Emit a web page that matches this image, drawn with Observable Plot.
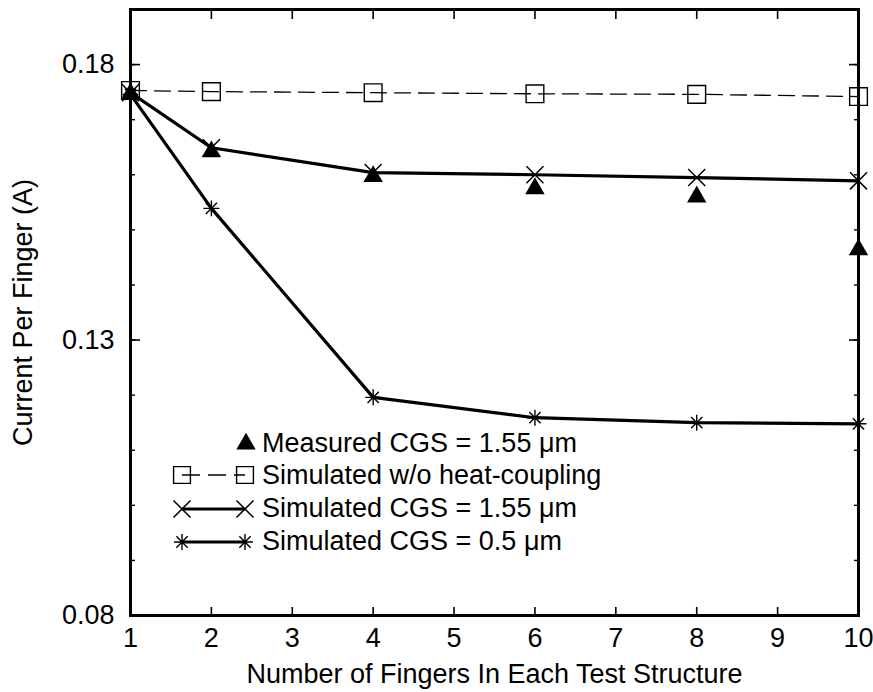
<!DOCTYPE html>
<html><head><meta charset="utf-8">
<script src="https://cdn.jsdelivr.net/npm/d3@7"></script>
<script src="https://cdn.jsdelivr.net/npm/@observablehq/plot@0.6"></script>
<style>html,body{margin:0;padding:0;background:#fff}#chart{width:873px;height:692px}</style>
</head><body><div id="chart"></div>
<script>
// ---- data ----
const fingers = [1, 2, 4, 6, 8, 10];
const noCoupling  = [0.1753, 0.1751, 0.1749, 0.1747, 0.1746, 0.1742];
const sim155      = [0.1749, 0.1649, 0.1604, 0.1600, 0.1595, 0.1589];
const measured155 = [0.1747, 0.1642, 0.1597, 0.1575, 0.1560, 0.1464];
const sim05       = [0.1746, 0.1539, 0.1196, 0.1159, 0.1150, 0.1148];
const xTicks  = [1, 2, 3, 4, 5, 6, 7, 8, 9, 10];
const yMajor  = [0.08, 0.13, 0.18];
const yMinor  = [0.08, 0.09, 0.10, 0.11, 0.12, 0.13, 0.14, 0.15, 0.16, 0.17, 0.18, 0.19];
const legendLabels = ["Measured CGS = 1.55 \u03bcm", "Simulated w/o heat-coupling", "Simulated CGS = 1.55 \u03bcm", "Simulated CGS = 0.5 \u03bcm"];
const xLabel = "Number of Fingers In Each Test Structure";
const yLabel = "Current Per Finger (A)";

const rows = ys => fingers.map((x, i) => ({x, y: ys[i]}));
const font = "'Liberation Sans', Arial, Helvetica, sans-serif";
const FS = 27;
const blank = () => "";

// eight-armed asterisk symbol
const star8 = {
  draw(context, size) {
    const r = Math.sqrt(size) * 0.6;
    const d = r * Math.SQRT1_2;
    context.moveTo(0, -r); context.lineTo(0, r);
    context.moveTo(-r, 0); context.lineTo(r, 0);
    context.moveTo(-d, -d); context.lineTo(d, d);
    context.moveTo(-d, d); context.lineTo(d, -d);
  }
};

const plot = Plot.plot({
  width: 873, height: 692,
  marginLeft: 130, marginRight: 15, marginTop: 9, marginBottom: 77,
  style: {fontFamily: font, fontSize: FS + "px", color: "black", background: "white", overflow: "visible"},
  x: {domain: [1, 10], label: null},
  y: {domain: [0.08, 0.19], label: null},
  marks: [
    // inward ticks
    Plot.axisX(xTicks, {anchor: "bottom", tickSize: -8, tickFormat: blank, strokeWidth: 1.6, label: null}),
    Plot.axisX(xTicks, {anchor: "top", tickSize: -9, tickFormat: blank, strokeWidth: 1.6, label: null}),
    Plot.axisY(yMinor, {anchor: "left", tickSize: -5, tickFormat: blank, strokeWidth: 1.4, label: null}),
    Plot.axisY(yMajor, {anchor: "left", tickSize: -10, tickFormat: blank, strokeWidth: 1.6, label: null}),
    Plot.axisY(yMinor, {anchor: "right", tickSize: -5, tickFormat: blank, strokeWidth: 1.4, label: null}),
    Plot.axisY(yMajor, {anchor: "right", tickSize: -10, tickFormat: blank, strokeWidth: 1.6, label: null}),
    // tick labels
    Plot.axisX(xTicks, {anchor: "bottom", tickSize: 0, tickPadding: 12, fontSize: FS, label: null}),
    Plot.axisY(yMajor, {anchor: "left", tickSize: 0, tickPadding: 16, fontSize: FS, tickFormat: d3.format(".2f"), label: null}),
    // titles
    Plot.text([xLabel], {frameAnchor: "bottom", lineAnchor: "bottom", textAnchor: "middle", dy: 67, fontSize: FS, fill: "black"}),
    Plot.text([yLabel], {frameAnchor: "left", rotate: -90, lineAnchor: "middle", textAnchor: "middle", dx: -107, fontSize: FS, fill: "black"}),
    Plot.frame({stroke: "black", strokeWidth: 3}),
    // series
    Plot.line(rows(noCoupling), {x: "x", y: "y", stroke: "black", strokeWidth: 1.3, strokeDasharray: "16,8"}),
    Plot.dot(rows(noCoupling), {x: "x", y: "y", symbol: "square", r: 10, stroke: "black", strokeWidth: 1.4, fill: "none"}),
    Plot.line(rows(sim155), {x: "x", y: "y", stroke: "black", strokeWidth: 3.2}),
    Plot.dot(rows(sim155), {x: "x", y: "y", symbol: "times", r: 7.8, stroke: "black", strokeWidth: 1.5}),
    Plot.line(rows(sim05), {x: "x", y: "y", stroke: "black", strokeWidth: 3.2}),
    Plot.dot(rows(sim05), {x: "x", y: "y", symbol: star8, r: 7.5, stroke: "black", strokeWidth: 1.4}),
    Plot.dot(rows(measured155), {x: "x", y: "y", symbol: "triangle", r: 7.2, fill: "black", stroke: "none"})
  ]
});
document.getElementById("chart").append(plot);

// ---- legend (inside the frame) ----
const svg = d3.select(plot);
const lg = svg.append("g").attr("font-family", font).attr("font-size", FS).attr("fill", "black").attr("text-anchor", "start");
const textX = 262, baselines = [452, 484, 517, 550], symY = [444, 475, 509, 542];
const x0 = 182, x1 = 245;
const sym = (type, r) => d3.symbol(type, Math.PI * r * r)();
legendLabels.forEach((t, i) => lg.append("text").attr("x", textX).attr("y", baselines[i]).attr("text-anchor", "start").text(t));
// row 1: triangle
lg.append("path").attr("d", sym(d3.symbolTriangle, 7.2)).attr("transform", `translate(${246},${symY[0]})`).attr("fill", "black");
// row 2: dashed + squares
lg.append("line").attr("x1", x0).attr("x2", x1).attr("y1", symY[1]).attr("y2", symY[1]).attr("stroke", "black").attr("stroke-width", 1.3).attr("stroke-dasharray", "18,8");
[x0, x1].forEach(x => lg.append("path").attr("d", sym(d3.symbolSquare, 9.5)).attr("transform", `translate(${x},${symY[1]})`).attr("fill", "none").attr("stroke", "black").attr("stroke-width", 1.4));
// row 3: thick line + times
lg.append("line").attr("x1", x0).attr("x2", x1).attr("y1", symY[2]).attr("y2", symY[2]).attr("stroke", "black").attr("stroke-width", 3.2);
[x0, x1].forEach(x => lg.append("path").attr("d", sym(d3.symbolTimes, 7.8)).attr("transform", `translate(${x},${symY[2]})`).attr("fill", "none").attr("stroke", "black").attr("stroke-width", 1.5));
// row 4: thick line + asterisk
lg.append("line").attr("x1", x0).attr("x2", x1).attr("y1", symY[3]).attr("y2", symY[3]).attr("stroke", "black").attr("stroke-width", 3.2);
[x0, x1].forEach(x => lg.append("path").attr("d", sym(star8, 7.5)).attr("transform", `translate(${x},${symY[3]})`).attr("fill", "none").attr("stroke", "black").attr("stroke-width", 1.4));
</script>
</body></html>
